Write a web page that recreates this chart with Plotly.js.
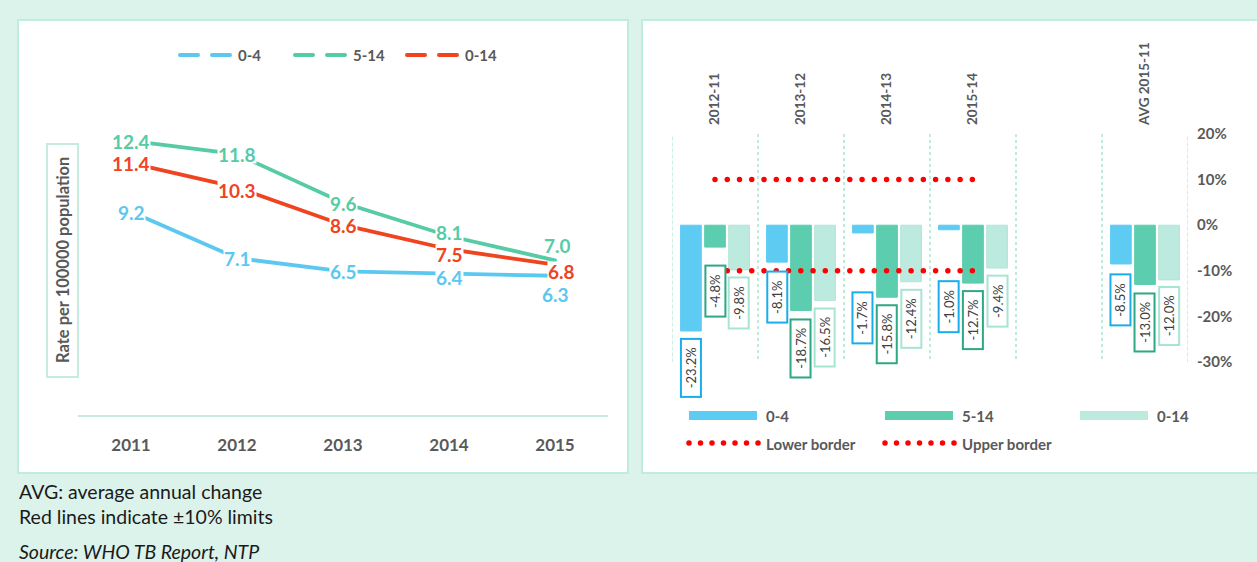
<!DOCTYPE html>
<html><head><meta charset="utf-8">
<script src="https://cdn.plot.ly/plotly-3.0.1.min.js"></script>
<style>
html,body{margin:0;padding:0;background:#dcf3ec;}
#chart{width:1257px;height:562px;}
.js-line{stroke-linecap:round;}
.shapelayer path{stroke-linecap:round;}
</style></head><body><div id="chart"></div>
<script>
// ---------- data ----------
const years = ['2011','2012','2013','2014','2015'];
const rate04  = [9.2, 7.1, 6.5, 6.4, 6.3];
const rate514 = [12.4, 11.8, 9.6, 8.1, 7.0];
const rate014 = [11.4, 10.3, 8.6, 7.5, 6.8];

const periods   = ['2012-11','2013-12','2014-13','2015-14',' ','AVG 2015-11'];
const change04  = [-23.2, -8.1, -1.7, -1.0, null, -8.5];
const change514 = [-4.8, -18.7, -15.8, -12.7, null, -13.0];
const change014 = [-9.8, -16.5, -12.4, -9.4, null, -12.0];
const borderPeriods = ['2012-11','2013-12','2014-13','2015-14'];
const upperBorder = [10, 10, 10, 10];
const lowerBorder = [-10, -10, -10, -10];
const pctTicks = [20, 10, 0, -10, -20, -30];
const seriesNames = ['0-4', '5-14', '0-14'];
const yTitle = 'Rate per 100000 population';
const notes = ['AVG: average annual change', 'Red lines indicate \u00B110% limits'];
const source = 'Source: WHO TB Report, NTP';

// ---------- styles ----------
const W = 1257, H = 562;
const px = x => x / W, py = y => 1 - y / H;
const FONT = 'Lato, "Open Sans", sans-serif';
const GREY = '#595959';
const lineColors = ['#5bc8f0', '#56cba6', '#f0431f'];
const barColors = ['#5ecbf3', '#5ccdae', '#bdeade'];
const boxColors = ['#1badeb', '#2ea784', '#a8e4d2'];
const BG = '#dcf3ec', BORDER = '#bfece0', SEP = '#bfeadc';

// left label offsets [xshift, yshift] per point
const lblOff = [
  [[0,0],[0,0],[0,0],[0,-3],[0,-18]],
  [[0,0],[0,0],[0,0],[0,4],[2,15]],
  [[0,0],[0,-3],[0,0],[0,-5],[6,-6]]
];
// right label gaps below bar end (px)
const boxGap = [
  [7, 8, 58, 50, 0, 9],
  [18, 8, 7, 7, 0, 8],
  [7, 7, 7, 7, 0, 6]
];

const rates = [rate04, rate514, rate014];
const changes = [change04, change514, change014];

const traces = [];
rates.forEach((r, i) => {
  traces.push({type:'scatter', mode:'lines', x: years, y: r, name: seriesNames[i],
    xaxis:'x', yaxis:'y', showlegend:false, line:{color: lineColors[i], width:3.8}});
});
changes.forEach((c, i) => {
  traces.push({type:'bar', x: periods, y: c, name: seriesNames[i], xaxis:'x2', yaxis:'y2',
    showlegend:false, marker:{color: barColors[i], line:{color: i===2 ? '#b2e5d6' : barColors[i], width:1}}});
});
const catPx = (1188 - 672) / periods.length;
const bargap = 0.16;
const slotPx = (1 - bargap) * catPx / 3;
const dotSpacing = (3 * catPx) / 21 - 0.03;
traces.push({type:'scatter', mode:'lines', x: borderPeriods, y: lowerBorder, name:'Lower border',
  xaxis:'x2', yaxis:'y2', showlegend:false, line:{color:'#ff0000', width:5.5, dash:'0px,' + dotSpacing + 'px'}});
traces.push({type:'scatter', mode:'lines', x: borderPeriods, y: upperBorder, name:'Upper border',
  xaxis:'x2', yaxis:'y2', showlegend:false, line:{color:'#ff0000', width:5.5, dash:'0px,' + dotSpacing + 'px'}});

const shapes = [];
const annotations = [];
const paperText = (x, y, text, font, xanchor, extra) => Object.assign({xref:'paper', yref:'paper',
  x: px(x), y: py(y), text: text, showarrow:false, xanchor: xanchor || 'left', yanchor:'middle', font: font}, extra || {});

// panels
shapes.push({type:'rect', xref:'paper', yref:'paper', x0:px(18), x1:px(628), y0:py(473), y1:py(20),
  fillcolor:'#ffffff', line:{color:BORDER, width:2}, layer:'below'});
shapes.push({type:'rect', xref:'paper', yref:'paper', x0:px(642), x1:px(1265), y0:py(473), y1:py(20),
  fillcolor:'#ffffff', line:{color:BORDER, width:2}, layer:'below'});
// outer separators of the right chart (edges of the category band)
[-0.5, periods.length - 0.5].forEach(xv => {
  shapes.push({type:'line', xref:'x2', yref:'y2', x0:xv, x1:xv, y0:-30, y1:20,
    line:{color:SEP, width:1.5, dash:'dot'}, layer:'below'});
});
// y title box
shapes.push({type:'rect', xref:'paper', yref:'paper', x0:px(47), x1:px(78), y0:py(377), y1:py(144),
  line:{color:'#c5ecdf', width:2}});
annotations.push(paperText(63, 260, yTitle, {family:FONT, size:16.5, color:GREY, weight:700}, 'center', {textangle:-90}));

// left value labels
rates.forEach((r, i) => {
  r.forEach((v, j) => {
    annotations.push({xref:'x', yref:'y', x: j, y: v, text: v.toFixed(1), showarrow:false,
      xanchor:'center', yanchor:'middle', height:18,
      bgcolor:'#ffffff', borderpad:0, xshift: lblOff[i][j][0], yshift: lblOff[i][j][1],
      font:{family:FONT, size:19, color: lineColors[i], weight:700}});
  });
});

// left legend
const legL = [180, 295, 407];
seriesNames.forEach((n, i) => {
  shapes.push({type:'line', xref:'paper', yref:'paper', x0:px(legL[i]), x1:px(legL[i]+50), y0:py(55), y1:py(55),
    line:{color: lineColors[i], width:4, dash:'18px,14px'}});
  annotations.push(paperText(legL[i]+56, 55, n, {family:FONT, size:15, color:GREY, weight:700}));
});

// right bar labels
changes.forEach((c, i) => {
  c.forEach((v, j) => {
    if (v === null) return;
    annotations.push({xref:'x2', yref:'y2', x: periods[j], y: v, xanchor:'center', yanchor:'top', textangle:-90,
      text:'\u00A0\u00A0' + v.toFixed(1) + '%\u00A0\u00A0', showarrow:false,
      xshift:(i - 1) * slotPx, yshift: -boxGap[i][j],
      bgcolor:'#ffffff', bordercolor: boxColors[i], borderwidth:2, borderpad:1,
      font:{family:FONT, size:13, color:'#404040'}});
  });
});

// right legend
const legR = [689, 885, 1080];
seriesNames.forEach((n, i) => {
  shapes.push({type:'rect', xref:'paper', yref:'paper', x0:px(legR[i]), x1:px(legR[i]+68), y0:py(420), y1:py(411),
    fillcolor: barColors[i], line:{width:0}});
  annotations.push(paperText(legR[i]+75, 415.5, n, {family:FONT, size:15, color:GREY, weight:700}));
});
['Lower border', 'Upper border'].forEach((n, i) => {
  const x0 = [689, 885][i];
  shapes.push({type:'line', xref:'paper', yref:'paper', x0:px(x0), x1:px(x0+69.05), y0:py(443), y1:py(443),
    line:{color:'#ff0000', width:5.5, dash:'0px,11.5px'}});
  annotations.push(paperText(x0+75, 443.5, n, {family:FONT, size:15, color:GREY, weight:700}));
});

// notes
notes.forEach((t, i) => {
  annotations.push(paperText(17, 491 + i * 25.5, t, {family:FONT, size:19.5, color:'#1a1a1a'}));
});
annotations.push(paperText(17, 551, '<i>' + source + '</i>', {family:FONT, size:19.5, color:'#1a1a1a'}));

const layout = {
  width: W, height: H, margin:{l:0, r:0, t:0, b:0},
  paper_bgcolor: BG, plot_bgcolor:'rgba(0,0,0,0)',
  showlegend:false, hovermode:false,
  barmode:'group', bargap: bargap, bargroupgap: 0.14,
  xaxis:{domain:[px(78), px(608)], type:'category', range:[-0.5, 4.5], showline:true, linecolor:'#c5ecdf',
    linewidth:2, ticks:'', showgrid:false, zeroline:false, ticklabelstandoff:14,
    tickfont:{family:FONT, size:17, color:GREY, weight:700}, fixedrange:true},
  yaxis:{domain:[py(415), py(105.6)], range:[0, 14], visible:false, fixedrange:true},
  xaxis2:{domain:[px(672), px(1188)], anchor:'y2', side:'top', type:'category', range:[-0.5, 5.5],
    categoryorder:'array', categoryarray: periods, tickson:'boundaries', ticks:'', showline:false,
    showgrid:true, griddash:'dot', gridcolor:SEP, gridwidth:1.5, tickangle:-90, ticklabelstandoff:8,
    tickfont:{family:FONT, size:13.5, color:GREY, weight:700}, zeroline:false},
  yaxis2:{domain:[py(362), py(134)], anchor:'x2', side:'right', range:[-30, 20], tickvals: pctTicks,
    ticktext: pctTicks.map(v => v + '%'), showgrid:false, zeroline:false, ticks:'', ticklabelstandoff:8,
    tickfont:{family:FONT, size:15, color:GREY, weight:700}},
  shapes: shapes, annotations: annotations
};
Plotly.newPlot('chart', traces, layout, {staticPlot:true, displayModeBar:false});
</script></body></html>
